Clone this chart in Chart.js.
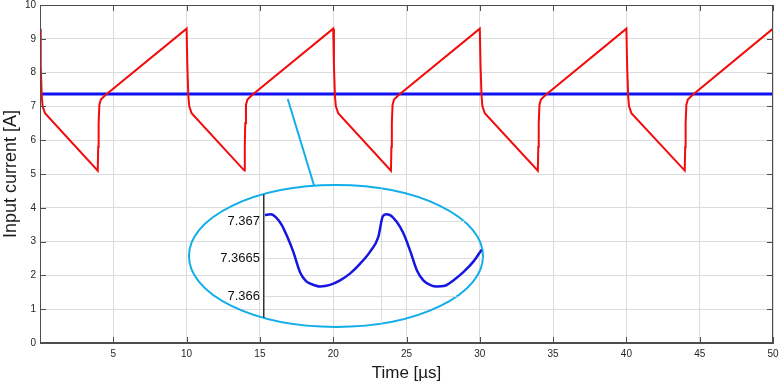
<!DOCTYPE html>
<html>
<head>
<meta charset="utf-8">
<script src="https://cdn.jsdelivr.net/npm/chart.js@4.4.1/dist/chart.umd.min.js"></script>
<style>
	html, body { margin: 0; padding: 0; background: #fff; }
	#wrap { position: relative; width: 782px; height: 385px; }
	#chart { position: absolute; left: 0; top: 0; }
	#inset { position: absolute; clip-path: ellipse(50% 50% at 50% 50%); }
</style>
</head>
<body>
<div id="wrap">
	<canvas id="chart" width="782" height="385"></canvas>
	<canvas id="inset"></canvas>
</div>
<script>
// Corriente de entrada (rojo), µs
const timeUs = [
	0, 0.05, 0.12, 0.18, 0.34, 3.94, 3.97, 4.0, 4.05, 4.15, 4.45,
	10, 10.05, 10.12, 10.18, 10.34, 13.94, 13.97, 14.0, 14.05, 14.15, 14.45,
	20, 20.05, 20.12, 20.18, 20.34, 23.94, 23.97, 24.0, 24.05, 24.15, 24.45,
	30, 30.05, 30.12, 30.18, 30.34, 33.96, 33.99, 34.02, 34.07, 34.17, 34.47,
	40, 40.05, 40.12, 40.18, 40.34, 43.98, 44.01, 44.04, 44.09, 44.19, 44.49,
	50, 50
];
const inputCurrent = [
	9.3, 8.2, 7.3, 7.0, 6.8, 5.1, 5.8, 6.5, 7.05, 7.2, 7.33,
	9.3, 8.2, 7.3, 7.0, 6.8, 5.1, 5.8, 6.5, 7.05, 7.2, 7.33,
	9.3, 8.2, 7.3, 7.0, 6.8, 5.1, 5.8, 6.5, 7.05, 7.2, 7.33,
	9.3, 8.2, 7.3, 7.0, 6.8, 5.1, 5.8, 6.5, 7.05, 7.2, 7.33,
	9.3, 8.2, 7.3, 7.0, 6.8, 5.1, 5.8, 6.5, 7.05, 7.2, 7.33,
	9.3, 7.8
];

// Valor medio (azul)
const meanTime = [0, 50];
const meanCurrent = [7.3666, 7.3666];

// Detalle ampliado del valor medio
const zoomTime = [
	0.08, 0.57, 1.02, 1.5, 1.98, 2.49, 3.06, 3.57, 4.05, 4.76, 5.61, 6.46, 7.3, 8.15,
	9.0, 9.71, 10.08, 10.36, 10.7, 11.27, 11.83, 12.4, 12.97, 13.53, 14.24, 14.67,
	15.37, 16.08, 16.93, 17.78, 18.49
];
const zoomCurrent = [
	7.36708, 7.36709, 7.36705, 7.36695, 7.36679, 7.36659, 7.36632, 7.3662, 7.36616,
	7.36613, 7.36615, 7.36621, 7.3663, 7.36643, 7.36659, 7.36679, 7.36706, 7.36709,
	7.36708, 7.36699, 7.36684, 7.36661, 7.36635, 7.36621, 7.36614, 7.36613, 7.36614,
	7.36621, 7.36632, 7.36646, 7.36662
];
const zoomTicks = [7.366, 7.3665, 7.367];

const xTicks = [0, 5, 10, 15, 20, 25, 30, 35, 40, 45, 50];
const yTicks = [0, 1, 2, 3, 4, 5, 6, 7, 8, 9, 10];

const toPoints = (xs, ys) => xs.map((x, i) => ({ x: x, y: ys[i] }));

const font = '"Liberation Sans", Arial, sans-serif';
const gridColor = '#dcdcdc';
const axisColor = '#4d4d4d';
const cyan = '#12aeea';

// Posición de la elipse (en unidades de datos)
const ellipse = { cx: 20.19, cy: 2.574, rx: 10.03, ry: 2.1 };
const connector = { x1: 16.9, y1: 7.22, x2: 18.7, y2: 4.65 };
const insetAxisX = 15.28;

const ellipseBox = (chart) => {
	const xs = chart.scales.x;
	const ys = chart.scales.y;
	const cx = xs.getPixelForValue(ellipse.cx);
	const cy = ys.getPixelForValue(ellipse.cy);
	const rx = xs.getPixelForValue(ellipse.cx + ellipse.rx) - cx;
	const ry = cy - ys.getPixelForValue(ellipse.cy + ellipse.ry);
	return { cx, cy, rx, ry };
};

// Sin relleno extra de las etiquetas en los extremos
const noPad = (s) => {
	s.paddingTop = 0;
	s.paddingBottom = 0;
	s.paddingLeft = 0;
	s.paddingRight = 0;
};

const decorations = {
	id: 'decorations',
	afterDraw(chart) {
		const ctx = chart.ctx;
		const { left, right, top, bottom } = chart.chartArea;
		const xs = chart.scales.x;
		const ys = chart.scales.y;
		ctx.save();
		// marco y marcas interiores
		ctx.strokeStyle = axisColor;
		ctx.lineWidth = 1;
		ctx.strokeRect(left + 0.5, top + 0.5, right - left - 1, bottom - top - 1);
		ctx.beginPath();
		xs.ticks.forEach((t) => {
			const px = Math.round(xs.getPixelForValue(t.value)) + 0.5;
			ctx.moveTo(px, bottom); ctx.lineTo(px, bottom - 6);
			ctx.moveTo(px, top); ctx.lineTo(px, top + 6);
		});
		ys.ticks.forEach((t) => {
			const py = Math.round(ys.getPixelForValue(t.value)) + 0.5;
			ctx.moveTo(left, py); ctx.lineTo(left + 6, py);
			ctx.moveTo(right, py); ctx.lineTo(right - 6, py);
		});
		ctx.stroke();

		// elipse y línea de unión
		const e = ellipseBox(chart);
		ctx.strokeStyle = cyan;
		ctx.lineWidth = 2;
		ctx.beginPath();
		ctx.ellipse(e.cx, e.cy, e.rx, e.ry, 0, 0, Math.PI * 2);
		ctx.stroke();
		ctx.beginPath();
		ctx.moveTo(xs.getPixelForValue(connector.x1), ys.getPixelForValue(connector.y1));
		ctx.lineTo(xs.getPixelForValue(connector.x2), ys.getPixelForValue(connector.y2));
		ctx.stroke();
		ctx.restore();
	}
};

const canvas = document.getElementById('chart');

const graph = new Chart(canvas, {
	type: 'line',
	data: {
		datasets: [
			{
				data: toPoints(timeUs, inputCurrent),
				borderColor: '#f20c0c',
				borderWidth: 2,
				pointRadius: 0,
				tension: 0
			},
			{
				data: toPoints(meanTime, meanCurrent),
				borderColor: '#1010f5',
				borderWidth: 3,
				pointRadius: 0
			}
		]
	},
	options: {
		responsive: false,
		animation: false,
		devicePixelRatio: 1,
		layout: { padding: { top: 5, right: 9, left: 0, bottom: 0 } },
		plugins: { legend: { display: false }, tooltip: { enabled: false } },
		scales: {
			x: {
				type: 'linear',
				min: 0,
				max: 50,
				afterBuildTicks: (s) => { s.ticks = xTicks.map((v) => ({ value: v })); },
				afterFit: (s) => { s.height = 42; noPad(s); },
				grid: { color: gridColor, drawTicks: false },
				border: { color: axisColor },
				ticks: {
					padding: 5,
					color: '#262626',
					font: { family: font, size: 10 },
					callback: (v) => (v === 0 ? '' : v)
				},
				title: {
					display: true,
					text: 'Time [µs]',
					color: '#1a1a1a',
					font: { family: font, size: 17 },
					padding: { top: 0, bottom: 1 }
				}
			},
			y: {
				min: 0,
				max: 10,
				afterBuildTicks: (s) => { s.ticks = yTicks.map((v) => ({ value: v })); },
				afterFit: (s) => { s.width = 40; noPad(s); },
				grid: { color: gridColor, drawTicks: false },
				border: { color: axisColor },
				ticks: {
					padding: 4,
					color: '#262626',
					font: { family: font, size: 10 }
				},
				title: {
					display: true,
					text: 'Input current [A]',
					color: '#1a1a1a',
					font: { family: font, size: 18 },
					padding: { top: 0, bottom: 0 }
				}
			}
		}
	},
	plugins: [decorations]
});

// Gráfico ampliado dentro de la elipse
const e = ellipseBox(graph);
const insetCanvas = document.getElementById('inset');
const boxLeft = Math.round(e.cx - e.rx);
const boxTop = Math.round(e.cy - e.ry);
insetCanvas.width = Math.round(e.rx * 2);
insetCanvas.height = Math.round(e.ry * 2);
insetCanvas.style.left = boxLeft + 'px';
insetCanvas.style.top = boxTop + 'px';
const axisOffset = Math.round(graph.scales.x.getPixelForValue(insetAxisX)) - boxLeft;

new Chart(insetCanvas, {
	type: 'line',
	data: {
		datasets: [{
			data: toPoints(zoomTime, zoomCurrent),
			borderColor: '#1616e0',
			borderWidth: 2.5,
			pointRadius: 0,
			cubicInterpolationMode: 'monotone'
		}]
	},
	options: {
		responsive: false,
		animation: false,
		devicePixelRatio: 1,
		layout: { padding: 0 },
		plugins: { legend: { display: false }, tooltip: { enabled: false } },
		scales: {
			x: {
				type: 'linear',
				min: 0,
				max: 18.6,
				afterBuildTicks: (s) => { s.ticks = [{ value: 10 }]; },
				afterFit: (s) => { s.height = 0; noPad(s); },
				grid: { color: gridColor, drawTicks: false },
				border: { display: false },
				ticks: { display: false }
			},
			y: {
				min: 7.36559,
				max: 7.36748,
				afterBuildTicks: (s) => { s.ticks = zoomTicks.map((v) => ({ value: v })); },
				afterFit: (s) => { s.width = axisOffset; noPad(s); },
				grid: { color: gridColor, drawTicks: false },
				border: { color: '#333', width: 1.5 },
				ticks: {
					padding: 4,
					color: '#111',
					font: { family: font, size: 13 },
					callback: (v) => String(v)
				}
			}
		}
	}
});
</script>
</body>
</html>
